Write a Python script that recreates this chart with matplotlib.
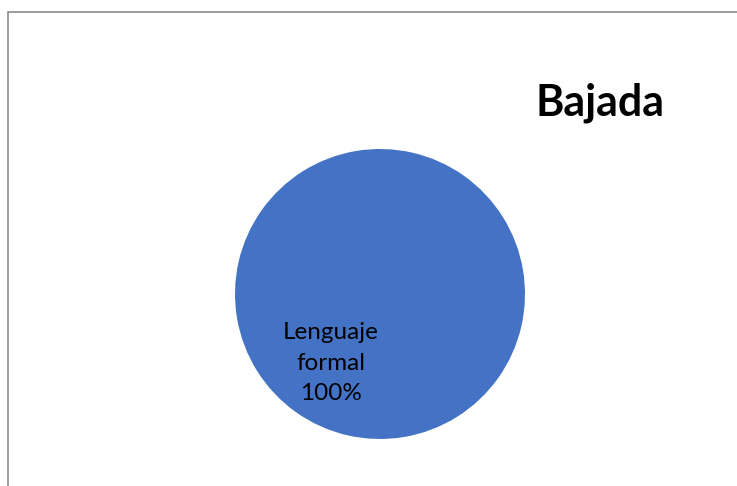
import matplotlib
matplotlib.use("Agg")
from matplotlib import pyplot as plt
from matplotlib.patches import Rectangle

# datos del grafico
categorias = ["Lenguaje\nformal"]
valores = [100]
titulo = "Bajada"
colores = ["#4472C4"]

plt.rcParams['font.family'] = ['Lato', 'DejaVu Sans']

W, H = 737, 486
fig = plt.figure(figsize=(W / 100, H / 100), dpi=100)

# marco gris del area del grafico
fig.patches.append(Rectangle((8 / W, -0.01), 1.01, 1 - 12 / H + 0.01,
                             transform=fig.transFigure, fill=False,
                             edgecolor="#8c8c8c", linewidth=1.2))

# centro (380,294) radio 145 px
cx, cy, r = 380, 294, 145
ax = fig.add_axes([(cx - r) / W, (H - cy - r) / H, 2 * r / W, 2 * r / H])

def etiqueta(pct):
    return f"{categorias[0]}\n{pct:.0f}%"

ax.pie(valores, colors=colores, startangle=54.6, counterclock=True,
       autopct=etiqueta, pctdistance=0.584,
       textprops=dict(fontsize=17.5, color="black", linespacing=1.55))
ax.set_xlim(-1, 1)
ax.set_ylim(-1, 1)
ax.set_aspect("equal")
ax.axis("off")

fig.text(600 / W, 1 - 103 / H, titulo, ha="center", va="center",
         fontsize=31, fontweight="bold")

fig.savefig("out.png", dpi=100)
